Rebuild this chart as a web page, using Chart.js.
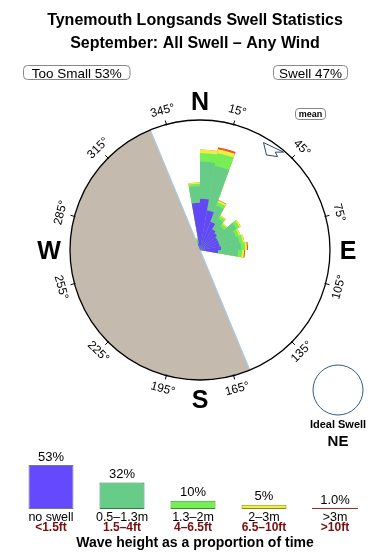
<!DOCTYPE html>
<html>
<head>
<meta charset="utf-8">
<script src="https://cdn.jsdelivr.net/npm/chart.js@4.4.1/dist/chart.umd.min.js"></script>
<style>
  body { margin: 0; background: #fff; }
  #wrap { position: relative; width: 390px; height: 560px; overflow: hidden; }
  #rose { position: absolute; left: 0; top: 0; }
  #bars { position: absolute; left: 0; top: 440px; }
</style>
</head>
<body>
<div id="wrap">
  <canvas id="rose" width="390" height="560"></canvas>
  <canvas id="bars" width="390" height="120"></canvas>
</div>
<script>
/// datos ///

// direction bins, start bearing of each 10 degree sector
const binStarts = [340, 350, 0, 10, 20, 30, 40, 50, 60, 70, 80, 90];
// height bands per bin (radial units, outer ring = 100)
const noSwell  = [5.0, 36.3, 39.4, 30.9, 23.2, 18.5, 17.0, 15.4, 15.4, 15.4, 16.2, 13.9];
const band0513 = [3.0, 12.7, 28.6, 34.7, 13.1, 9.3, 7.0, 17.0, 13.9, 15.4, 15.4, 15.4];
const band1320 = [1.0, 1.9, 6.6, 10.0, 2.7, 2.3, 2.3, 2.7, 2.7, 2.7, 3.1, 3.1];
const band2030 = [0.3, 1.0, 2.7, 3.1, 1.5, 0.8, 0.8, 1.2, 1.2, 1.2, 1.5, 1.5];
const band30up = [0, 0, 0, 1.5, 0.4, 0, 0, 0, 0, 0, 0.8, 0.8];

const tooSmall = 53;
const swell = 47;
const meanDir = 35;
const idealDir = 'NE';
const landFrom = 157.5;   // land sector, clockwise
const landTo = 337.5;

// legend at the bottom
const legendNames = ['no swell', '0.5–1.3m', '1.3–2m', '2–3m', '>3m'];
const legendFeet = ['<1.5ft', '1.5–4ft', '4–6.5ft', '6.5–10ft', '>10ft'];
const legendShare = [53, 32, 10, 5, 1.0];

//////////////

const bandFill = ['#6448f7', '#66cc88', '#77ee55', '#eeee44', '#ee5522'];
const barFill = ['#6549ff', '#66cc88', '#77ee55', '#eeee44', '#8b3a2a'];
const barEdge = ['#777777', '#2f7a4a', '#3d8a2d', '#8a8a1a', '#8b3a2a'];
const FONT = '"Liberation Sans", Arial, sans-serif';

const rad = d => d * Math.PI / 180;

function polar(cx, cy, r, bearing) {
  const a = rad(bearing - 90);
  return [cx + Math.cos(a) * r, cy + Math.sin(a) * r];
}

// 36 sectors, stacked by drawing cumulative totals (dataset 0 ends on top)
function fullBins(vals) {
  const out = new Array(36).fill(0);
  binStarts.forEach((b, i) => { out[b / 10] = vals[i]; });
  return out;
}
const bands = [noSwell, band0513, band1320, band2030, band30up];
const cumul = bands.map((_, k) => fullBins(binStarts.map((b, i) => {
  let s = 0;
  for (let j = 0; j <= k; j++) s += bands[j][i];
  return s;
})));
const sectorLabels = new Array(36).fill(0).map((_, i) => (i * 10) + '°');

function roundBox(ctx, x, y, w, h, r) {
  ctx.beginPath();
  ctx.moveTo(x + r, y);
  ctx.arcTo(x + w, y, x + w, y + h, r);
  ctx.arcTo(x + w, y + h, x, y + h, r);
  ctx.arcTo(x, y + h, x, y, r);
  ctx.arcTo(x, y, x + w, y, r);
  ctx.closePath();
  ctx.stroke();
}

const roseDeco = {
  id: 'roseDeco',
  beforeDatasetsDraw(chart) {
    const s = chart.scales.r;
    const ctx = chart.ctx;
    const cx = s.xCenter, cy = s.yCenter, R = s.drawingArea;
    ctx.save();
    ctx.fillStyle = '#c4baad';
    ctx.beginPath();
    ctx.moveTo(cx, cy);
    ctx.arc(cx, cy, R, rad(landFrom - 90), rad(landTo - 90));
    ctx.closePath();
    ctx.fill();
    ctx.strokeStyle = '#a9c9e4';
    ctx.lineWidth = 1.2;
    ctx.beginPath();
    let p = polar(cx, cy, R, landTo);
    ctx.moveTo(p[0], p[1]);
    p = polar(cx, cy, R, landFrom);
    ctx.lineTo(p[0], p[1]);
    ctx.stroke();
    ctx.restore();
  },
  afterDatasetsDraw(chart) {
    const s = chart.scales.r;
    const ctx = chart.ctx;
    const cx = s.xCenter, cy = s.yCenter, R = s.drawingArea;
    ctx.save();
    // outer ring
    ctx.strokeStyle = '#000';
    ctx.lineWidth = 1.3;
    ctx.beginPath();
    ctx.arc(cx, cy, R, 0, Math.PI * 2);
    ctx.stroke();

    // degree ticks and labels
    ctx.lineWidth = 1;
    ctx.fillStyle = '#000';
    ctx.font = '12px ' + FONT;
    ctx.textAlign = 'center';
    ctx.textBaseline = 'middle';
    for (let d = 15; d < 360; d += 30) {
      const a = polar(cx, cy, R - 1, d);
      const b = polar(cx, cy, R + 4, d);
      ctx.beginPath();
      ctx.moveTo(a[0], a[1]);
      ctx.lineTo(b[0], b[1]);
      ctx.stroke();
      const t = polar(cx, cy, R + 14, d);
      const rot = d < 90 ? d : (d < 270 ? d - 180 : d - 360);
      ctx.save();
      ctx.translate(t[0], t[1]);
      ctx.rotate(rad(rot));
      ctx.fillText(d + '°', 0, 0);
      ctx.restore();
    }

    // compass letters
    ctx.font = 'bold 25px ' + FONT;
    [['N', 0, R + 16.5], ['E', 90, R + 18], ['S', 180, R + 21.5], ['W', 270, R + 21]].forEach(c => {
      const p = polar(cx, cy, c[2], c[1]);
      ctx.fillText(c[0], p[0], p[1] + (c[1] % 180 ? 1.7 : 0));
    });

    // mean direction marker
    const shape = [[-4.4, 0.96], [0, 0.892], [4.7, 0.934], [2.6, 0.95], [5.5, 0.99]];
    ctx.strokeStyle = '#2c4a66';
    ctx.lineWidth = 1;
    ctx.beginPath();
    shape.forEach((q, i) => {
      const p = polar(cx, cy, R * q[1], meanDir + q[0]);
      if (i === 0) ctx.moveTo(p[0], p[1]); else ctx.lineTo(p[0], p[1]);
    });
    ctx.closePath();
    ctx.stroke();
    ctx.restore();
  },
  afterDraw(chart) {
    const ctx = chart.ctx;
    ctx.save();
    ctx.fillStyle = '#000';
    ctx.textAlign = 'center';
    ctx.textBaseline = 'alphabetic';
    ctx.font = 'bold 16px ' + FONT;
    ctx.fillText('Tynemouth Longsands Swell Statistics', 195, 25);
    ctx.fillText('September: All Swell – Any Wind', 195, 47.5);

    ctx.strokeStyle = '#888';
    ctx.lineWidth = 1;
    roundBox(ctx, 23.5, 65.5, 106.5, 14, 4);
    roundBox(ctx, 273.5, 65.5, 74, 14, 4);
    ctx.font = '13.5px ' + FONT;
    ctx.fillText('Too Small ' + tooSmall + '%', 76.7, 77.5);
    ctx.fillText('Swell ' + swell + '%', 310.5, 77.5);

    roundBox(ctx, 295.5, 108.5, 30, 11, 3.5);
    ctx.font = 'bold 9px ' + FONT;
    ctx.fillText('mean', 310.5, 117);

    // ideal swell
    ctx.strokeStyle = '#3a5a7a';
    ctx.beginPath();
    ctx.arc(338, 390, 25, 0, Math.PI * 2);
    ctx.stroke();
    ctx.font = 'bold 11px ' + FONT;
    ctx.fillText('Ideal Swell', 338, 428);
    ctx.font = 'bold 15px ' + FONT;
    ctx.fillText(idealDir, 338, 446);
    ctx.restore();
  }
};

new Chart(document.getElementById('rose'), {
  type: 'polarArea',
  data: {
    labels: sectorLabels,
    datasets: cumul.map((vals, k) => ({
      data: vals,
      backgroundColor: bandFill[k],
      borderWidth: 0
    }))
  },
  options: {
    responsive: false,
    animation: false,
    events: [],
    layout: { padding: { left: 70, right: 60, top: 120, bottom: 180 } },
    scales: {
      r: {
        min: 0,
        max: 100,
        startAngle: 0,
        ticks: { display: false },
        grid: { display: false },
        angleLines: { display: false },
        pointLabels: { display: false }
      }
    },
    plugins: { legend: { display: false }, tooltip: { enabled: false } }
  },
  plugins: [roseDeco]
});

const barText = {
  id: 'barText',
  afterDatasetsDraw(chart) {
    const ctx = chart.ctx;
    const bars = chart.getDatasetMeta(0).data;
    ctx.save();
    ctx.textAlign = 'center';
    ctx.textBaseline = 'middle';
    bars.forEach((bar, i) => {
      const v = legendShare[i];
      ctx.fillStyle = '#000';
      ctx.font = '13px ' + FONT;
      ctx.fillText((v >= 2 ? v.toFixed(0) : v.toFixed(1)) + '%', bar.x, bar.y - 8);
      ctx.font = '12.5px ' + FONT;
      ctx.fillText(legendNames[i], bar.x, 77.5);
      ctx.fillStyle = '#7a0c0c';
      ctx.font = 'bold 12px ' + FONT;
      ctx.fillText(legendFeet[i], bar.x, 87.5);
    });
    ctx.fillStyle = '#000';
    ctx.font = 'bold 14px ' + FONT;
    ctx.fillText('Wave height as a proportion of time', 195, 103);
    ctx.restore();
  }
};

new Chart(document.getElementById('bars'), {
  type: 'bar',
  data: {
    labels: legendNames,
    datasets: [{
      data: legendShare,
      backgroundColor: barFill,
      borderColor: barEdge,
      borderWidth: 1,
      borderSkipped: false,
      inflateAmount: [0, 0, 0, 0, 0.5],
      barPercentage: 0.634,
      categoryPercentage: 1
    }]
  },
  options: {
    responsive: false,
    animation: false,
    events: [],
    layout: { padding: { left: 15.5, right: 19.5, top: 0, bottom: 51 } },
    scales: {
      x: { display: false },
      y: { display: false, min: 0, max: 83 }
    },
    plugins: { legend: { display: false }, tooltip: { enabled: false } }
  },
  plugins: [barText]
});
</script>
</body>
</html>
